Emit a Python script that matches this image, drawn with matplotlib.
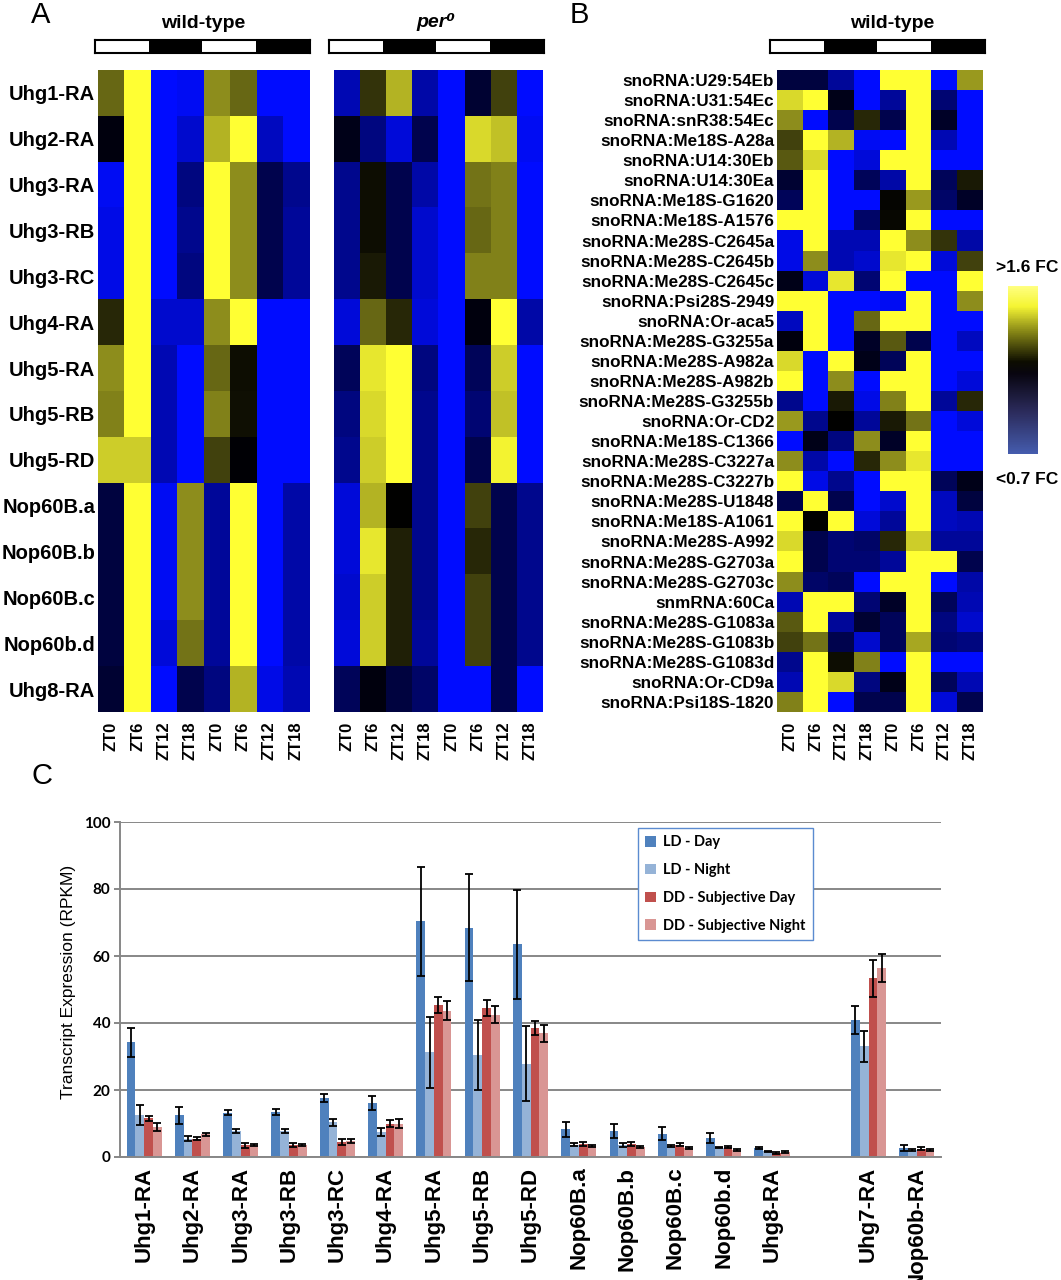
import numpy as np
import matplotlib
matplotlib.use('Agg')
import matplotlib.pyplot as plt
from matplotlib.colors import LinearSegmentedColormap, ListedColormap, Normalize
from matplotlib.cm import ScalarMappable

plt.rcParams['font.family'] = ['Liberation Sans', 'DejaVu Sans']

W, H = 1061, 1280

# ---- data ----
zt_labels = ['ZT0', 'ZT6', 'ZT12', 'ZT18', 'ZT0', 'ZT6', 'ZT12', 'ZT18']
ld_pattern = [0, 1, 0, 1]  # light / dark

genes_A = ['Uhg1-RA', 'Uhg2-RA', 'Uhg3-RA', 'Uhg3-RB', 'Uhg3-RC', 'Uhg4-RA', 'Uhg5-RA',
           'Uhg5-RB', 'Uhg5-RD', 'Nop60B.a', 'Nop60B.b', 'Nop60B.c', 'Nop60b.d', 'Uhg8-RA']

# log-ratio style values, -1 = blue (low), 0 = black, 1 = yellow (high)
wt_A = [
    [0.40, 1, -1, -0.95, 0.55, 0.40, -1, -1],
    [-0.05, 1, -1, -0.80, 0.70, 1, -0.75, -1],
    [-0.95, 1, -1, -0.50, 1, 0.55, -0.30, -0.55],
    [-0.90, 1, -1, -0.55, 1, 0.55, -0.30, -0.60],
    [-0.90, 1, -1, -0.50, 1, 0.55, -0.30, -0.60],
    [0.15, 1, -0.80, -0.80, 0.55, 1, -1, -1],
    [0.55, 1, -0.70, -1, 0.40, 0.05, -1, -1],
    [0.50, 1, -0.70, -1, 0.50, 0.06, -1, -1],
    [0.80, 0.80, -0.70, -1, 0.25, -0.02, -1, -1],
    [-0.25, 1, -0.95, 0.55, -0.60, 1, -1, -0.65],
    [-0.25, 1, -0.95, 0.55, -0.60, 1, -1, -0.65],
    [-0.25, 1, -0.95, 0.55, -0.60, 1, -1, -0.65],
    [-0.25, 1, -0.85, 0.45, -0.60, 1, -1, -0.65],
    [-0.20, 1, -1, -0.30, -0.50, 0.70, -0.90, -0.70],
]

per_A = [
    [-0.70, 0.20, 0.70, -0.65, -1, -0.20, 0.25, -1],
    [-0.10, -0.50, -0.85, -0.30, -1, 0.85, 0.75, -0.95],
    [-0.55, 0.05, -0.30, -0.65, -1, 0.45, 0.50, -1],
    [-0.55, 0.05, -0.30, -0.80, -1, 0.40, 0.50, -1],
    [-0.55, 0.10, -0.30, -0.80, -1, 0.50, 0.50, -1],
    [-0.85, 0.40, 0.15, -0.85, -1, -0.05, 1, -0.65],
    [-0.35, 0.90, 1, -0.50, -1, -0.35, 0.80, -1],
    [-0.50, 0.85, 1, -0.55, -1, -0.45, 0.75, -1],
    [-0.55, 0.80, 1, -0.55, -1, -0.30, 0.95, -1],
    [-0.85, 0.70, 0.00, -0.55, -1, 0.25, -0.30, -0.55],
    [-0.85, 0.90, 0.12, -0.55, -1, 0.15, -0.30, -0.55],
    [-0.80, 0.80, 0.12, -0.55, -1, 0.25, -0.30, -0.55],
    [-0.85, 0.80, 0.12, -0.60, -1, 0.25, -0.30, -0.55],
    [-0.35, -0.05, -0.25, -0.40, -1, -1, -0.30, -1],
]

genes_B = ['snoRNA:U29:54Eb', 'snoRNA:U31:54Ec', 'snoRNA:snR38:54Ec', 'snoRNA:Me18S-A28a',
           'snoRNA:U14:30Eb', 'snoRNA:U14:30Ea', 'snoRNA:Me18S-G1620', 'snoRNA:Me18S-A1576',
           'snoRNA:Me28S-C2645a', 'snoRNA:Me28S-C2645b', 'snoRNA:Me28S-C2645c', 'snoRNA:Psi28S-2949',
           'snoRNA:Or-aca5', 'snoRNA:Me28S-G3255a', 'snoRNA:Me28S-A982a', 'snoRNA:Me28S-A982b',
           'snoRNA:Me28S-G3255b', 'snoRNA:Or-CD2', 'snoRNA:Me18S-C1366', 'snoRNA:Me28S-C3227a',
           'snoRNA:Me28S-C3227b', 'snoRNA:Me28S-U1848', 'snoRNA:Me18S-A1061', 'snoRNA:Me28S-A992',
           'snoRNA:Me28S-G2703a', 'snoRNA:Me28S-G2703c', 'snmRNA:60Ca', 'snoRNA:Me28S-G1083a',
           'snoRNA:Me28S-G1083b', 'snoRNA:Me28S-G1083d', 'snoRNA:Or-CD9a', 'snoRNA:Psi18S-1820']

wt_B = [
    [-0.25, -0.25, -0.60, -1, 1, 1, -1, 0.60],
    [0.85, 1, -0.10, -1, -0.60, 1, -0.45, -1],
    [0.55, -1, -0.30, 0.15, -0.30, 1, -0.15, -1],
    [0.25, 1, 0.70, -0.95, -1, 1, -0.70, -1],
    [0.35, 0.85, -1, -0.85, 1, 1, -1, -1],
    [-0.20, 1, -1, -0.35, -0.65, 1, -0.35, 0.10],
    [-0.35, 1, -1, -1, 0.02, 0.60, -0.40, -0.15],
    [1, 1, -1, -0.40, 0.03, 1, -1, -1],
    [-0.90, 1, -0.70, -0.70, 1, 0.55, 0.20, -0.65],
    [-0.90, 0.55, -0.70, -0.80, 0.90, 1, -0.85, 0.25],
    [-0.10, -0.85, 0.90, -0.45, 1, -1, -1, 1],
    [1, 1, -1, -1, -0.95, 1, -1, 0.55],
    [-0.75, 1, -1, 0.40, 1, 1, -1, -1],
    [-0.05, 1, -1, -0.15, 0.35, -0.30, -1, -0.75],
    [0.85, -1, 1, -0.10, -0.35, 1, -1, -1],
    [1, -1, 0.55, -1, 1, 1, -1, -0.85],
    [-0.55, -1, 0.10, -0.90, 0.50, 1, -0.60, 0.15],
    [0.60, -0.55, 0.00, -0.60, 0.10, 0.45, -1, -0.85],
    [-1, -0.10, -0.50, 0.55, -0.15, 1, -1, -1],
    [0.55, -0.65, -1, 0.15, 0.55, 0.90, -1, -1],
    [1, -0.90, -0.55, -1, 1, 1, -0.35, -0.10],
    [-0.30, 1, -0.30, -1, -0.80, 1, -0.75, -0.25],
    [1, 0.00, 1, -0.85, -0.60, 1, -0.75, -0.70],
    [0.85, -0.30, -0.45, -0.40, 0.15, 0.80, -0.60, -0.60],
    [1, -0.30, -0.45, -0.45, -0.60, 1, 1, -0.30],
    [0.55, -0.40, -0.35, -1, 1, 1, -1, -0.65],
    [-0.70, 1, 1, -0.45, -0.15, 1, -0.35, -0.70],
    [0.35, 1, -0.60, -0.20, -0.35, 1, -0.50, -0.80],
    [0.25, 0.45, -0.30, -0.80, -0.35, 0.65, -0.45, -0.50],
    [-0.55, 1, 0.05, 0.50, -1, 1, -1, -1],
    [-0.70, 1, 0.85, -0.50, -0.10, 1, -0.35, -0.70],
    [0.50, 1, -1, -0.30, -0.30, 1, -0.85, -0.30],
]

# panel C (RPKM); '' is the empty gap category
cats_C = ['Uhg1-RA', 'Uhg2-RA', 'Uhg3-RA', 'Uhg3-RB', 'Uhg3-RC', 'Uhg4-RA', 'Uhg5-RA', 'Uhg5-RB',
          'Uhg5-RD', 'Nop60B.a', 'Nop60B.b', 'Nop60B.c', 'Nop60b.d', 'Uhg8-RA', '', 'Uhg7-RA', 'Nop60b-RA']
nan = np.nan
ld_day = [34.2, 12.4, 13.2, 13.4, 17.6, 16.1, 70.4, 68.5, 63.5, 8.3, 7.8, 7.0, 5.7, 2.8, nan, 41.0, 2.7]
ld_day_err = [4.3, 2.6, 0.8, 0.8, 1.2, 2.2, 16.3, 16.0, 16.2, 2.2, 2.0, 2.0, 1.5, 0.3, nan, 4.2, 1.0]
ld_night = [12.5, 5.5, 7.8, 7.8, 10.4, 7.5, 31.2, 30.4, 27.9, 3.7, 3.5, 3.3, 2.8, 1.7, nan, 33.0, 2.0]
ld_night_err = [3.0, 0.8, 0.6, 0.6, 1.0, 1.2, 10.6, 10.4, 11.3, 0.5, 0.6, 0.4, 0.2, 0.2, nan, 4.6, 0.3]
dd_day = [11.5, 5.5, 3.5, 3.5, 4.5, 10.0, 45.5, 44.5, 38.5, 4.0, 3.8, 3.7, 3.0, 1.2, nan, 53.3, 2.5]
dd_day_err = [0.7, 0.5, 0.8, 0.6, 0.8, 1.0, 2.4, 2.3, 2.2, 0.6, 0.6, 0.5, 0.3, 0.2, nan, 5.6, 0.4]
dd_night = [9.0, 6.8, 3.7, 3.7, 4.8, 10.0, 43.7, 42.5, 36.9, 3.2, 3.0, 2.8, 2.2, 1.5, nan, 56.3, 2.2]
dd_night_err = [1.2, 0.4, 0.3, 0.3, 0.5, 1.3, 2.8, 2.6, 2.6, 0.3, 0.3, 0.3, 0.3, 0.3, nan, 4.2, 0.3]
series_names = ['LD - Day', 'LD - Night', 'DD - Subjective Day', 'DD - Subjective Night']
series_colors = ['#4F81BD', '#95B3D7', '#C0504D', '#D99694']

# ---- figure ----
fig = plt.figure(figsize=(W / 100, H / 100), dpi=100)


def add_px(x0, y0, x1, y1):
    return fig.add_axes([x0 / W, 1 - y1 / H, (x1 - x0) / W, (y1 - y0) / H])


yb = LinearSegmentedColormap.from_list('yb', [(0.0, (0.0, 0.05, 1.0)),
                                              (0.5, (0.0, 0.0, 0.0)),
                                              (1.0, (1.0, 1.0, 0.2))])


def heat(box, data, rows=None, rowsize=14):
    ax = add_px(*box)
    ax.imshow(np.array(data), cmap=yb, vmin=-1, vmax=1, aspect='auto', interpolation='nearest')
    ax.set_xticks(range(len(zt_labels)))
    ax.set_xticklabels(zt_labels, rotation=90, fontsize=12, fontweight='bold')
    if rows is None:
        ax.set_yticks([])
    else:
        ax.set_yticks(range(len(rows)))
        ax.set_yticklabels(rows, fontsize=rowsize, fontweight='bold')
    ax.tick_params(length=0, pad=7, axis='x')
    ax.tick_params(length=0, pad=2, axis='y')
    for s in ax.spines.values():
        s.set_visible(False)
    return ax


def ldbar(box):
    ax = add_px(*box)
    ax.imshow([ld_pattern], cmap=ListedColormap(['white', 'black']), vmin=0, vmax=1,
              aspect='auto', interpolation='nearest')
    ax.set_xticks([])
    ax.set_yticks([])
    for s in ax.spines.values():
        s.set_color('black')
        s.set_linewidth(1.5)
    return ax


# panel A
heat((98, 70, 309, 712), wt_A, genes_A, rowsize=14.5)
heat((334, 70, 543, 712), per_A)
ldbar((95, 40, 310, 53))
ldbar((329, 40, 544, 53))
fig.text(203 / W, 1 - 23 / H, 'wild-type', ha='center', va='center', fontsize=14, fontweight='bold')
fig.text(436 / W, 1 - 22 / H, 'per⁰', ha='center', va='center', fontsize=14, fontweight='bold',
         style='italic', family=['Liberation Sans', 'DejaVu Sans'])

# panel B
heat((777, 70, 983, 712), wt_B, genes_B, rowsize=12.3)
ldbar((770, 40, 985, 53))
fig.text(892 / W, 1 - 23 / H, 'wild-type', ha='center', va='center', fontsize=14, fontweight='bold')

cb_cmap = LinearSegmentedColormap.from_list('cb', [(0.0, (0.27, 0.36, 0.68)),
                                                   (0.25, (0.17, 0.17, 0.36)),
                                                   (0.48, (0.03, 0.02, 0.06)),
                                                   (0.55, (0.05, 0.05, 0.0)),
                                                   (0.72, (0.5, 0.5, 0.08)),
                                                   (0.88, (0.96, 0.96, 0.2)),
                                                   (1.0, (1.0, 1.0, 0.5))])
cax = add_px(1008, 286, 1038, 454)
cb = fig.colorbar(ScalarMappable(norm=Normalize(0, 1), cmap=cb_cmap), cax=cax)
cb.set_ticks([])
cb.outline.set_visible(False)
fig.text(996 / W, 1 - 267 / H, '>1.6 FC', ha='left', va='center', fontsize=12.5, fontweight='bold')
fig.text(996 / W, 1 - 480 / H, '<0.7 FC', ha='left', va='center', fontsize=12.5, fontweight='bold')

# panel letters
fig.text(41 / W, 1 - 15 / H, 'A', ha='center', va='center', fontsize=21)
fig.text(579 / W, 1 - 15 / H, 'B', ha='center', va='center', fontsize=21)
fig.text(42 / W, 1 - 776 / H, 'C', ha='center', va='center', fontsize=21)

# panel C
ax = add_px(120, 822, 941, 1157)
x = np.arange(len(cats_C))
w = 0.182
vals = [ld_day, ld_night, dd_day, dd_night]
errs = [ld_day_err, ld_night_err, dd_day_err, dd_night_err]
for i, (v, e, c, n) in enumerate(zip(vals, errs, series_colors, series_names)):
    xi = x + (i - 1.5) * w
    ax.bar(xi, v, width=w, color=c, label=n, zorder=2)
    ax.errorbar(xi, v, yerr=e, fmt='none', ecolor='black', elinewidth=1.3, capsize=3,
                capthick=1.3, zorder=3)

ax.set_xlim(-0.5, len(cats_C) - 0.5)
ax.set_ylim(0, 100)
ax.set_yticks(range(0, 101, 20))
ax.yaxis.grid(True, color='#878787', lw=1.4, zorder=0)
ax.set_axisbelow(True)
for s in ['top', 'right']:
    ax.spines[s].set_visible(False)
for s in ['left', 'bottom']:
    ax.spines[s].set_color('#878787')
    ax.spines[s].set_linewidth(1.4)
ax.set_xticks(x)
ax.set_xticklabels(cats_C, rotation=90, fontsize=16, fontweight='bold')
ax.tick_params(axis='x', length=0, pad=7)
ax.tick_params(axis='y', length=4, color='#878787', width=1.4, pad=3)
for t in ax.get_yticklabels():
    t.set_family('Lato')
    t.set_fontweight('bold')
    t.set_fontsize(11)

fig.text(68 / W, 1 - 982 / H, 'Transcript Expression (RPKM)', rotation=90, ha='center', va='center',
         fontsize=12.5)

ax.legend(loc='upper left', bbox_to_anchor=(0.631, 0.982), frameon=True, fancybox=False,
          edgecolor='#5B8BD0', framealpha=1, prop={'family': 'Lato', 'size': 10.5, 'weight': 'bold'},
          handlelength=0.75, handleheight=0.75, labelspacing=0.95, borderpad=0.5,
          handletextpad=0.45, borderaxespad=0)

fig.savefig('out.png', dpi=100)
